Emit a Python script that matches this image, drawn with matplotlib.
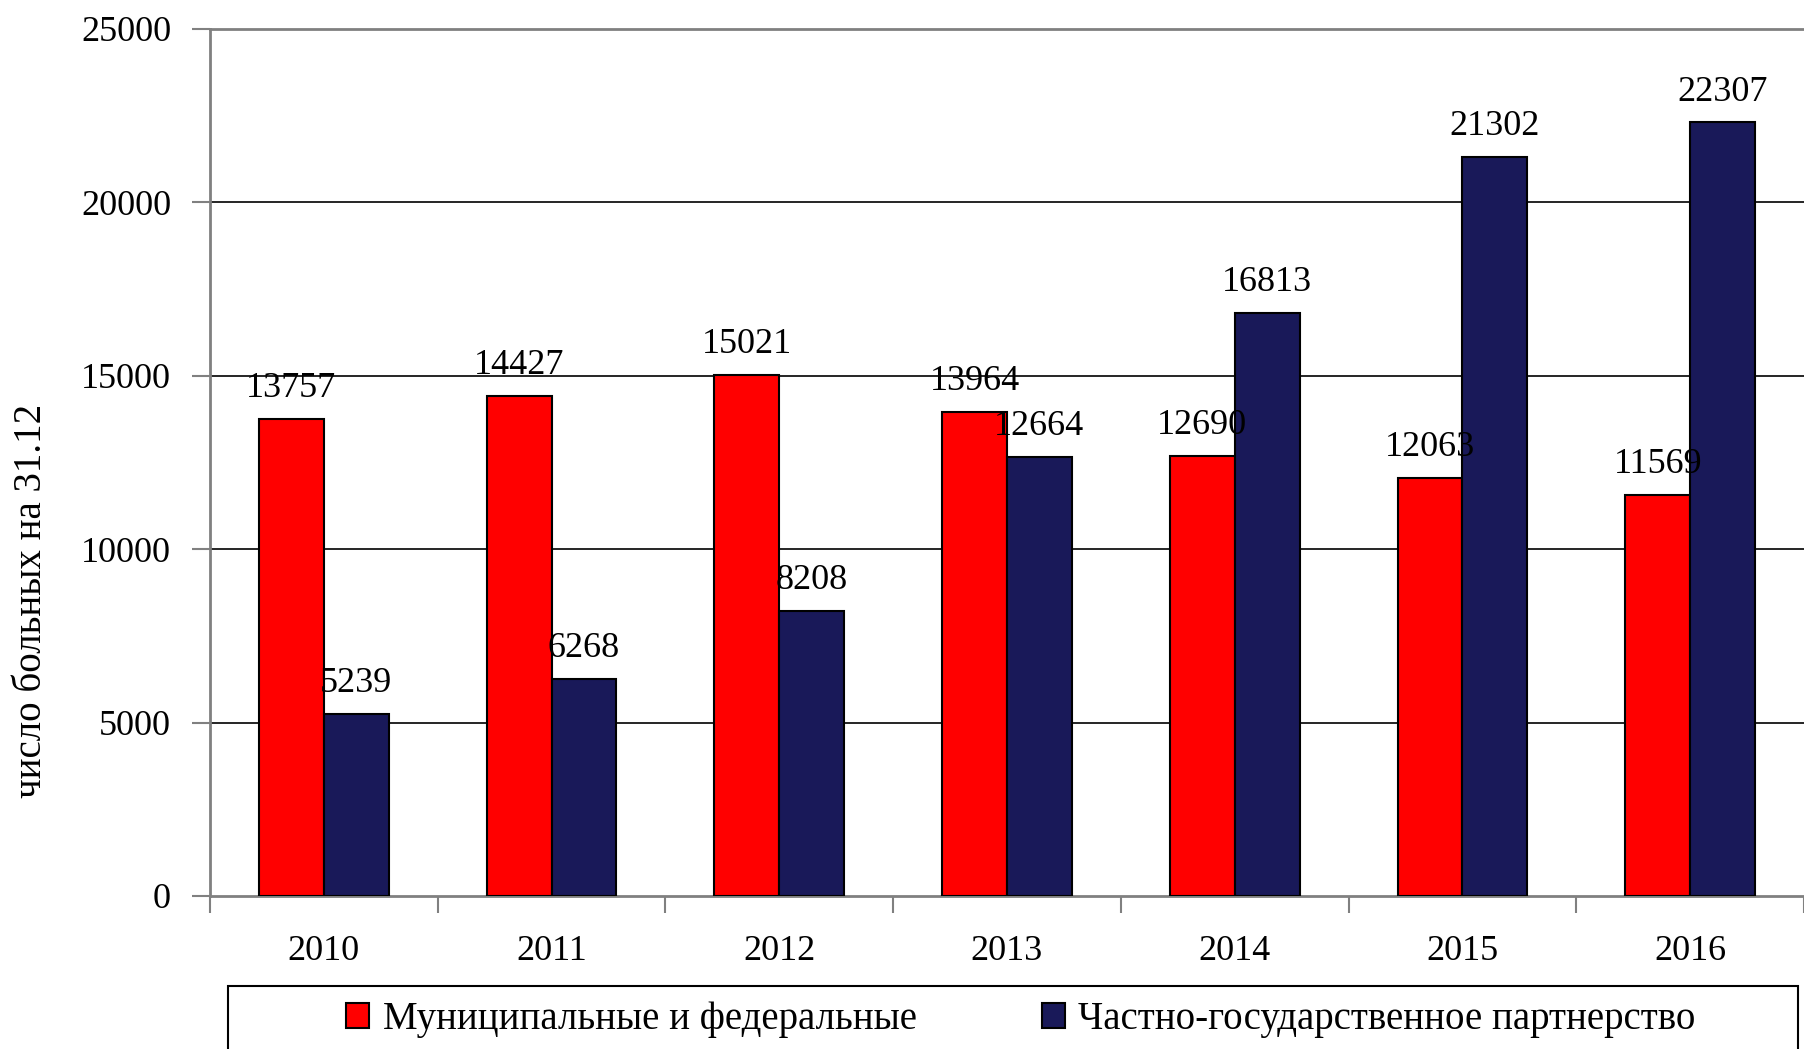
import matplotlib.pyplot as plt
import matplotlib.patches as mpatches
import numpy as np

plt.rcParams['font.family'] = ['Liberation Serif', 'DejaVu Serif']

years = ['2010', '2011', '2012', '2013', '2014', '2015', '2016']
municipal = [13757, 14427, 15021, 13964, 12690, 12063, 11569]
ppp = [5239, 6268, 8208, 12664, 16813, 21302, 22307]

label_mun = 'Муниципальные и федеральные'
label_ppp = 'Частно-государственное партнерство'

red = '#FF0000'
navy = '#191959'

fig = plt.figure(figsize=(18.04, 10.49), dpi=100)
ax = fig.add_axes([210 / 1804, 1 - 896 / 1049, 1 - 210 / 1804, (896 - 29) / 1049])

x = np.arange(len(years))
w = 0.285
b1 = ax.bar(x - w / 2, municipal, w, color=red, edgecolor='black', linewidth=1.5,
            label=label_mun, zorder=3)
b2 = ax.bar(x + w / 2, ppp, w, color=navy, edgecolor='black', linewidth=1.5,
            label=label_ppp, zorder=3)

for bars, vals in ((b1, municipal), (b2, ppp)):
    for r, v in zip(bars, vals):
        ax.annotate(str(v), (r.get_x() + r.get_width() / 2, v),
                    xytext=(0, 10), textcoords='offset points',
                    ha='center', va='bottom', fontsize=26, zorder=5)

ax.set_xlim(-0.5, len(years) - 0.5)
ax.set_ylim(0, 25000)
ax.set_yticks(range(0, 25001, 5000))
ax.tick_params(axis='y', labelsize=26, length=13, width=1.5, color='#808080', pad=15)

ax.set_xticks(x)
ax.set_xticklabels(years)
ax.set_xticks(np.arange(-0.5, len(years)), minor=True)
ax.tick_params(axis='x', which='major', length=0, labelsize=26, pad=28)
ax.tick_params(axis='x', which='minor', length=12, width=1.5, color='#808080')

for yv in range(5000, 25000, 5000):
    ax.axhline(yv, color='black', linewidth=1.2, zorder=1)

for s in ('left', 'bottom', 'top'):
    ax.spines[s].set_color('#808080')
    ax.spines[s].set_linewidth(2)
ax.spines['right'].set_visible(False)

fig.text(32 / 1804, 1 - 601 / 1049, 'число больных на 31.12', rotation=90,
         ha='center', va='center', fontsize=28)

rect = mpatches.Rectangle((228 / 1804, -0.05), (1798 - 228) / 1804, 0.05 + 1 - 986 / 1049,
                          transform=fig.transFigure, fill=False, edgecolor='black',
                          linewidth=1.5)
fig.patches.append(rect)

fig.legend(handles=[b1, b2], loc='center', bbox_to_anchor=(1021 / 1804, 1 - 1020 / 1049),
           ncol=2, frameon=False, fontsize=28, handlelength=0.6, handleheight=0.6,
           handletextpad=0.35, columnspacing=3.2)

fig.savefig('out.png', dpi=100)
